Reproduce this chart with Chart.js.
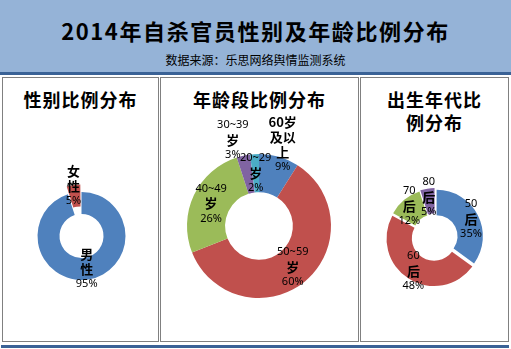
<!DOCTYPE html>
<html>
<head>
<meta charset="utf-8">
<script src="https://cdn.jsdelivr.net/npm/chart.js@4/dist/chart.umd.min.js"></script>
<style>
  html, body { margin: 0; padding: 0; background: #fff; }
  body { width: 511px; height: 349px; position: relative; overflow: hidden; font-family: "Noto Sans CJK SC", sans-serif; }
  #head { position: absolute; left: 0; top: 0; width: 511px; height: 72px; background: #95b3d7; }
  #headLine { position: absolute; left: 0; top: 72px; width: 511px; height: 3px; background: #3a6296; }
  #footLine { position: absolute; left: 1px; top: 345px; width: 508px; height: 3px; background: #3a6296; }
  #title { position: absolute; left: 0; width: 511px; top: 16px; text-align: center; font-size: 22px; font-weight: bold; letter-spacing: 1.6px; line-height: 28px; color: #000; }
  #sub { position: absolute; left: 0; width: 511px; top: 51px; text-align: center; font-size: 12px; line-height: 18px; color: #000; }
  .panel { position: absolute; top: 77px; height: 265px; box-sizing: border-box; border: 1px solid #808080; }
  .ptitle { position: absolute; left: 0; width: 100%; top: 10px; text-align: center; font-size: 18px; font-weight: bold; letter-spacing: 1px; line-height: 23px; color: #000; }
  canvas { position: absolute; top: 77px; }
</style>
</head>
<body>
<div id="head"></div>
<div id="headLine"></div>
<div id="title">2014年自杀官员性别及年龄比例分布</div>
<div id="sub">数据来源：乐思网络舆情监测系统</div>

<div class="panel" style="left:2px;width:157px"><div class="ptitle">性别比例分布</div></div>
<div class="panel" style="left:160px;width:199px"><div class="ptitle">年龄段比例分布</div></div>
<div class="panel" style="left:360px;width:149px"><div class="ptitle">出生年代比<br>例分布</div></div>
<div id="footLine"></div>

<canvas id="genderChart" width="157" height="265" style="left:2px"></canvas>
<canvas id="ageChart" width="199" height="265" style="left:160px"></canvas>
<canvas id="birthChart" width="149" height="265" style="left:360px"></canvas>

<script>
// gender split
const genderLabels = [['男', '性'], ['女', '性']];
const genderValues = [95, 5];

// age groups
const ageLabels = [['60岁', '及以', '上'], ['50~59', '岁'], ['40~49', '岁'], ['30~39', '岁'], ['20~29', '岁']];
const ageValues = [9, 60, 26, 3, 2];

// birth decade
const birthLabels = [['50', '后'], ['60', '后'], ['70', '后'], ['80', '后']];
const birthValues = [35, 48, 12, 5];

const BLUE = '#4f81bd', RED = '#c0504d', GREEN = '#9bbb59', PURPLE = '#8064a2', CYAN = '#4bacc6';

const isCJK = s => /[\u4e00-\u9fff]/.test(s);

// draws the category name + percentage inside / beside each slice
const sliceLabels = {
  id: 'sliceLabels',
  afterDatasetsDraw(chart, args, opts) {
    const ctx = chart.ctx;
    const meta = chart.getDatasetMeta(0);
    const values = chart.data.datasets[0].data;
    const push = opts.push || [];
    const nudge = opts.nudge || [];
    ctx.save();
    ctx.fillStyle = '#000';
    ctx.textAlign = 'center';
    ctx.textBaseline = 'middle';
    meta.data.forEach((arc, i) => {
      const p = arc.getProps(['x', 'y', 'startAngle', 'endAngle', 'innerRadius', 'outerRadius'], true);
      const mid = (p.startAngle + p.endAngle) / 2;
      const off = arc.options.offset || 0;
      const r = (p.innerRadius + p.outerRadius) / 2 + off + (push[i] || 0);
      const d = nudge[i] || [0, 0];
      const cx = p.x + Math.cos(mid) * r + d[0];
      const cy = p.y + Math.sin(mid) * r + d[1];
      const lines = [].concat(chart.data.labels[i], values[i] + '%');
      const step = 15;
      let y = cy - (lines.length - 1) * step / 2;
      lines.forEach(t => {
        ctx.font = isCJK(t) ? 'bold 13px "Noto Sans CJK SC"' : '11px "Noto Sans", "Noto Sans CJK SC"';
        ctx.fillText(t, cx, y);
        y += step;
      });
    });
    ctx.restore();
  }
};

function donut(id, labels, values, colors, cfg) {
  return new Chart(document.getElementById(id), {
    type: 'doughnut',
    data: {
      labels: labels,
      datasets: [{
        data: values,
        backgroundColor: colors,
        borderWidth: 0,
        offset: cfg.offset
      }]
    },
    options: {
      responsive: false,
      animation: false,
      radius: cfg.radius,
      cutout: cfg.cutout,
      layout: { padding: cfg.padding },
      plugins: {
        legend: { display: false },
        tooltip: { enabled: false },
        sliceLabels: { push: cfg.push, nudge: cfg.nudge }
      }
    },
    plugins: [sliceLabels]
  });
}

donut('genderChart', genderLabels, genderValues, [BLUE, RED], {
  radius: 44, cutout: '50%', offset: [0, 18],
  padding: { left: 2, right: 0, top: 53, bottom: 0 }
});

donut('ageChart', ageLabels, ageValues, [BLUE, RED, GREEN, PURPLE, CYAN], {
  radius: 72, cutout: '47%', offset: 0,
  padding: { left: 0, right: 1, top: 33, bottom: 0 },
  push: [32, 0, 0, 35, 0],
  nudge: [[0, 0], [0, 0], [0, 0], [-7, 0], [0, 0]]
});

donut('birthChart', birthLabels, birthValues, [BLUE, RED, GREEN, PURPLE], {
  radius: 46, cutout: '45%', offset: 7,
  padding: { left: 1, right: 0, top: 55, bottom: 0 }
});
</script>
</body>
</html>
